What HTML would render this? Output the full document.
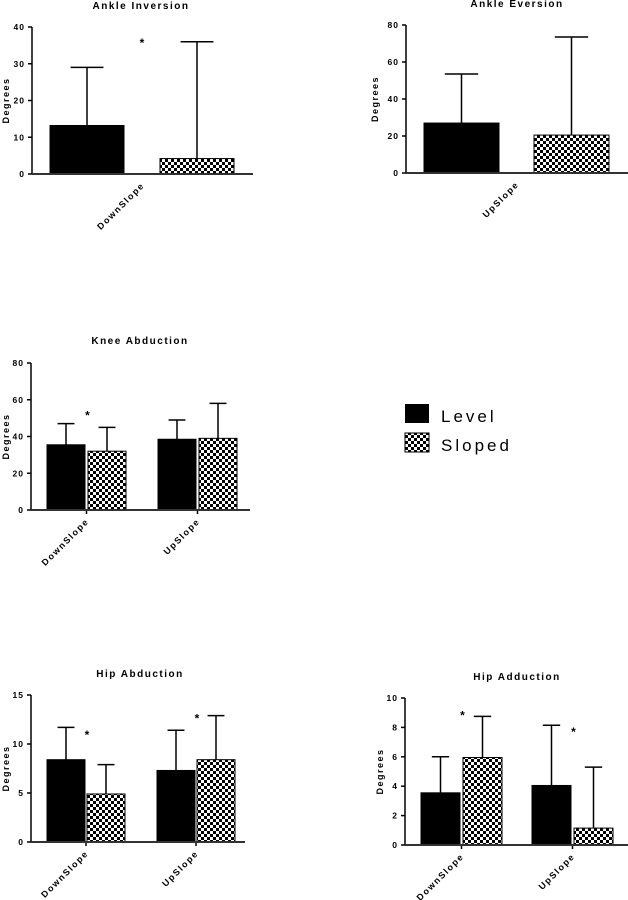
<!DOCTYPE html>
<html><head><meta charset="utf-8"><style>
html,body{margin:0;padding:0;background:#fff;}
svg{display:block;font-family:"Liberation Sans",Arial,sans-serif;}
</style></head><body>
<svg id="c" width="628" height="900" viewBox="0 0 628 900">
<defs>
<pattern id="chk" width="6" height="6" patternUnits="userSpaceOnUse">
<rect width="6" height="6" fill="#fff"/><rect width="3" height="3" fill="#000"/><rect x="3" y="3" width="3" height="3" fill="#000"/>
</pattern>
</defs>
<g>
<rect x="405" y="404" width="24" height="19" fill="#000"/>
<text x="441" y="422" font-size="17" letter-spacing="3">Level</text>
<rect x="405" y="433" width="24" height="19" fill="url(#chk)" stroke="#000" stroke-width="1"/>
<text x="441" y="451" font-size="17" letter-spacing="3">Sloped</text>
</g>
</svg>
<script>
// Data arrays
const panelTitles = ["Ankle Inversion","Ankle Eversion","Knee Abduction","Hip Abduction","Hip Adduction"];
const panelCategories = [["DownSlope"],["UpSlope"],["DownSlope","UpSlope"],["DownSlope","UpSlope"],["DownSlope","UpSlope"]];
const levelMeans = [[13.2],[27],[35.5,38.5],[8.4,7.3],[3.55,4.05]];
const levelErr = [[29],[53.5],[47,49],[11.7,11.4],[6.0,8.15]];
const slopedMeans = [[4.2],[20.5],[32,39],[4.9,8.4],[5.95,1.15]];
const slopedErr = [[36],[73.5],[45,58],[7.9,12.9],[8.75,5.3]];
const yMaxes = [40,80,80,15,10];
const yTickLabels = [[0,10,20,30,40],[0,20,40,60,80],[0,20,40,60,80],[0,5,10,15],[0,2,4,6,8,10]];
// stars: [category index, value position]
const starCats = [[0],[],[0],[0,1],[0,1]];
const starVals = [[36.5],[],[53],[11.2,12.9],[9.0,7.9]];

// layout (not data)
const layout = [
 {ax:32,x1:253,top:27,bot:174,ty:3,tx:141,gw:74,gap:36,gStart:50,single:true,yx:9},
 {ax:406,x1:628,top:25,bot:173,ty:1,tx:517,gw:75,gap:35,gStart:424,single:true,yx:378},
 {ax:31,x1:250,top:363,bot:510,ty:338,tx:140,gw:38,gap:3,gStart:47,step:111,yx:9},
 {ax:31,x1:245,top:695,bot:842,ty:671,tx:140,gw:38,gap:2,gStart:47,step:110,yx:9},
 {ax:405,x1:628,top:698,bot:845,ty:674,tx:517,gw:39,gap:3,gStart:421,step:111,yx:383}
];
const NS="http://www.w3.org/2000/svg";
const svg=document.getElementById('c');
function mk(tag,attrs,parent){const e=document.createElementNS(NS,tag);for(const k in attrs)e.setAttribute(k,attrs[k]);(parent||svg).appendChild(e);return e;}
panelTitles.forEach((title,p)=>{
  const L=layout[p];
  const g=mk('g',{});
  
  
  const y=v=>L.bot-(v/yMaxes[p])*(L.bot-L.top);
  const t=mk('text',{x:L.tx,y:L.ty+6,'font-size':10,'font-weight':'bold','text-anchor':'middle','letter-spacing':1.5},g);
  t.textContent=title;
  
  
  const yt=mk('text',{transform:`translate(${L.yx},${(L.top+L.bot)/2}) rotate(-90)`,'font-size':9,'font-weight':'bold','text-anchor':'middle','letter-spacing':1.5},g);
  yt.textContent='Degrees';
  
  
  const catX=[];
  panelCategories[p].forEach((cat,i)=>{
    const gx=L.single?L.gStart:L.gStart+i*L.step;
    const xs=[gx, gx+L.gw+L.gap];
    const means=[levelMeans[p][i],slopedMeans[p][i]];
    const errs=[levelErr[p][i],slopedErr[p][i]];
    means.forEach((m,s)=>{
      const cx=xs[s]+L.gw/2;
      const el=mk('line',{x1:cx,x2:cx,y1:y(m),y2:y(errs[s]),stroke:'#000','stroke-width':1.5},g);
      
      
      const cap=mk('line',{x1:cx-L.gw/4.5,x2:cx+L.gw/4.5,y1:y(errs[s]),y2:y(errs[s]),stroke:'#000','stroke-width':1.5},g);
      
      
      const r=mk('rect',{x:xs[s],y:y(m),width:L.gw,height:L.bot-y(m),fill:s?'url(#chk)':'#000',stroke:'#000','stroke-width':1},g);
      
      
    });
    const tx=L.single?(xs[0]+L.gw+xs[1])/2:xs[0]+L.gw+L.gap/2;
    catX.push(tx);
    if(!L.single){const tk=mk('line',{x1:tx,x2:tx,y1:L.bot,y2:L.bot+4,stroke:'#000','stroke-width':1.5},g);
      
      }
    const lb=mk('text',{transform:`translate(${tx+3},${L.bot+12}) rotate(-45)`,'font-size':9,'font-weight':'bold','text-anchor':'end','letter-spacing':1.5},g);
    lb.textContent=cat;
    
    
  });
  starCats[p].forEach((ci,k)=>{
    const s=mk('text',{x:catX[ci]+(L.single?0:1),y:y(starVals[p][k])+7,'font-size':12,'font-weight':'bold','text-anchor':'middle'},g);
    s.textContent='*';
    
    
  });
  const ya=mk('line',{x1:L.ax,x2:L.ax,y1:L.top,y2:L.bot,stroke:'#000','stroke-width':1.5},g);
  
  
  const xa=mk('line',{x1:L.ax,x2:L.x1,y1:L.bot,y2:L.bot,stroke:'#333','stroke-width':2},g);
  
  
  yTickLabels[p].forEach(v=>{
    const tk=mk('line',{x1:L.ax-4,x2:L.ax,y1:y(v),y2:y(v),stroke:'#000','stroke-width':1.5},g);
    
    
    const tl=mk('text',{x:L.ax-7,y:y(v)+3,'font-size':8.5,'font-weight':'bold','text-anchor':'end','letter-spacing':1},g);
    tl.textContent=v;
    
    
  });
});
</script>
</body></html>
